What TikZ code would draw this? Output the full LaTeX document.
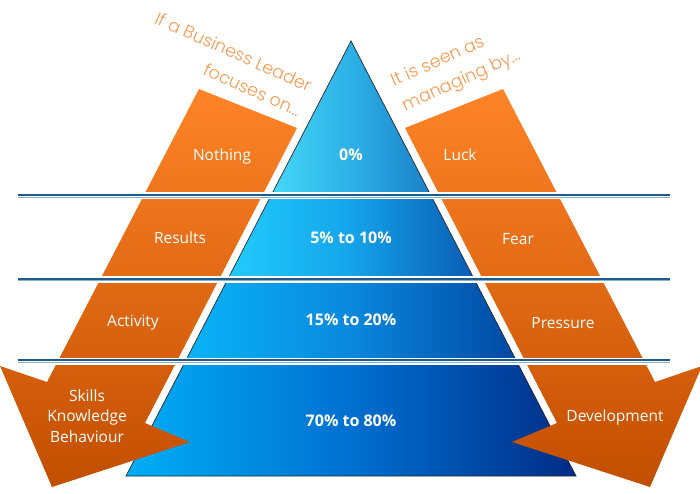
\documentclass[tikz,border=0pt]{standalone}
\usepackage{fontspec}
\setmainfont{Open Sans}
\newfontfamily\hfont{Poppins Light}
\definecolor{orT}{HTML}{FF8428}
\definecolor{orB}{HTML}{C24E00}
\definecolor{orLight}{HTML}{F89A50}
\definecolor{pAl}{HTML}{45D8F8}
\definecolor{pAm}{HTML}{2CB0E6}
\definecolor{pAr}{HTML}{1A80C8}
\definecolor{pBl}{HTML}{22CCFF}
\definecolor{pBm}{HTML}{14A4EA}
\definecolor{pBr}{HTML}{0A5CB2}
\definecolor{pCl}{HTML}{08B4F8}
\definecolor{pCm}{HTML}{0A88DC}
\definecolor{pCr}{HTML}{0048A2}
\definecolor{pDl}{HTML}{00AEF6}
\definecolor{pDm}{HTML}{0070D0}
\definecolor{pDr}{HTML}{002C86}
\definecolor{lnDark}{HTML}{1F5C8C}
\definecolor{lnLight}{HTML}{8AB0CE}
\tikzset{
  pyr/.style={draw=black!85, line width=0.7pt},
  orshape/.style={top color=orT, bottom color=orB},
  lab/.style={text=white, font=\fontsize{15.5}{20.5}\selectfont, align=center},
  pct/.style={text=white, font=\bfseries\fontsize{16}{20}\selectfont},
  htext/.style={text=orLight, font=\hfont\fontsize{17.5}{27}\selectfont},
  gapline/.style={white, line width=7pt},
  darkline/.style={lnDark, line width=2pt},
  lightline/.style={lnLight, line width=0.9pt}
}
\begin{document}
\begin{tikzpicture}[x=1pt,y=-1pt]
\useasboundingbox (0,0) rectangle (700,494);
% pyramid corners
\coordinate (apex) at (351,41);
\coordinate (l1) at (270.8,196); \coordinate (r1) at (431.2,196);
\coordinate (l2) at (227.6,279.5); \coordinate (r2) at (474.4,279.5);
\coordinate (l3) at (185.5,361); \coordinate (r3) at (516.5,361);
\coordinate (l4) at (126,476); \coordinate (r4) at (576,476);
% pyramid bands
\shadedraw[pyr, left color=pAl, right color=pAr, middle color=pAm] (apex) -- (r1) -- (l1) -- cycle;
\shadedraw[pyr, left color=pBl, right color=pBr, middle color=pBm] (l1) -- (r1) -- (r2) -- (l2) -- cycle;
\shadedraw[pyr, left color=pCl, right color=pCr, middle color=pCm] (l2) -- (r2) -- (r3) -- (l3) -- cycle;
\shadedraw[pyr, left color=pDl, right color=pDr, middle color=pDm] (l3) -- (r3) -- (r4) -- (l4) -- cycle;
% orange arrows
\shade[orshape] (199,89) -- (297,128) -- (145,423) -- (190,442) -- (52,487) -- (0,366) -- (47,382) -- cycle;
\shade[orshape] (503,89) -- (405,128) -- (557,423) -- (512,442) -- (650,487) -- (702,366) -- (655,382) -- cycle;
% separator lines
\foreach \yy in {196,279.5,361}{
  \draw[gapline] (18,\yy) -- (670,\yy);
  \draw[darkline] (18,\yy-0.6) -- (670,\yy-0.6);
  \draw[lightline] (18,\yy+1.2) -- (670,\yy+1.2);
}
% labels
\node[lab] (nothing) at (222,156) {Nothing};
\node[lab] (results) at (180,238) {Results};
\node[lab] (activity) at (133,323) {Activity};
\node[lab] (skills) at (87,416) {Skills\\Knowledge\\Behaviour};
\node[lab] (luck) at (460,155) {Luck};
\node[lab] (fear) at (518,239) {Fear};
\node[lab] (pressure) at (563,323) {Pressure};
\node[lab] (devel) at (615,417) {Development};
\node[pct] (p0) at (351,155) {0\%};
\node[pct] (p1) at (351,238) {5\% to 10\%};
\node[pct] (p2) at (351,320) {15\% to 20\%};
\node[pct] (p3) at (351,421) {70\% to 80\%};
\node[htext, rotate=-24, align=right] (lead) at (228,64) {If a Business Leader\\focuses on...};
\node[htext, rotate=24, align=left] (seen) at (456,69) {It is seen as\\managing by...};
\end{tikzpicture}
\end{document}
